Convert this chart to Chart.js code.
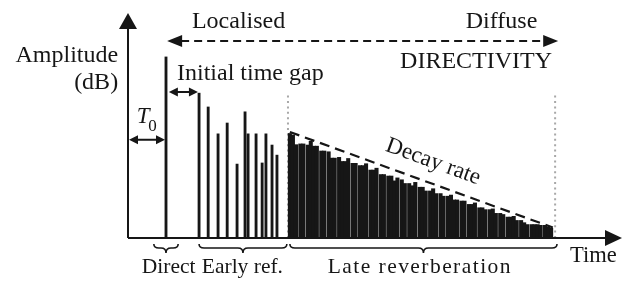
<!DOCTYPE html>
<html>
<head>
<meta charset="utf-8">
<script src="https://cdn.jsdelivr.net/npm/chart.js@4/dist/chart.umd.min.js"></script>
<style>
  body { margin: 0; background: #fff; }
  canvas { display: block; }
</style>
</head>
<body>
<canvas id="chart" width="633" height="282"></canvas>
<script>
// time in ms, amplitude in dB above the floor
const directTime = [10];
const directLevel = [48.5];

const earlyTimes = [18.7, 21.1, 23.7, 26.1, 28.7, 30.8, 31.6, 33.7, 35.3, 36.3, 37.9, 39.2];
const earlyLevels = [38.8, 35.1, 27.9, 30.8, 19.8, 33.8, 27.9, 27.9, 20.1, 27.9, 24.9, 22.2];

const lateTimes = [
  42.6, 43.4, 44.2, 45.35, 46.15, 47.3, 48.1, 48.9, 49.7, 50.85,
  51.65, 52.8, 53.6, 54.4, 55.55, 56.35, 57.15, 57.95, 59.1, 59.9,
  61.05, 61.85, 62.65, 63.8, 64.6, 65.4, 66.55, 67.35, 68.5, 69.3,
  70.1, 70.9, 72.05, 72.85, 74.0, 74.8, 75.6, 76.75, 77.55, 78.35,
  79.5, 80.3, 81.1, 82.25, 83.05, 84.2, 85.0, 85.8, 86.6, 87.75,
  88.55, 89.7, 90.5, 91.3, 92.45, 93.25, 94.05, 95.2, 96.0, 96.8,
  97.95, 98.75, 99.9, 100.7, 101.5, 102.3, 103.45, 104.25, 105.05, 106.2,
  107.0, 107.8, 108.6, 109.75, 110.55, 111.35
];
const lateLevels = [
  28.0, 27.6, 25.0, 25.2, 25.2, 24.9, 25.9, 24.6, 24.6, 23.3,
  23.3, 23.1, 21.4, 21.4, 21.6, 20.5, 20.5, 21.3, 20.0, 20.0,
  19.4, 19.4, 19.9, 18.2, 18.2, 18.7, 17.0, 17.0, 16.6, 16.6,
  15.3, 16.1, 15.6, 14.6, 14.6, 14.0, 14.9, 13.6, 13.6, 12.6,
  12.6, 13.2, 11.9, 11.9, 11.2, 11.2, 11.5, 10.2, 10.2, 9.9,
  9.9, 9.0, 9.0, 9.4, 8.1, 8.1, 7.6, 7.6, 7.8, 6.6,
  6.6, 6.3, 5.6, 5.6, 5.8, 4.7, 4.7, 4.1, 3.6, 3.6,
  3.6, 3.6, 3.4, 3.4, 2.9, 2.6
];

const decayTimes = [42.6, 111.8];
const decayLevels = [28.4, 2.8];

const boundaryTimes = [42.1, 112.4];
const boundaryTop = 38.8;

const pts = (xs, ys) => xs.map((x, i) => ({x: x, y: ys[i]}));

const serif = '"Liberation Serif", "Times New Roman", serif';
const ink = '#161616';

function head(ctx, tx, ty, dx, dy, len, half) {
    // filled triangle pointing along (dx, dy)
    const bx = tx - dx * len, by = ty - dy * len;
    ctx.beginPath();
    ctx.moveTo(tx, ty);
    ctx.lineTo(bx - dy * half, by + dx * half);
    ctx.lineTo(bx + dy * half, by - dx * half);
    ctx.closePath();
    ctx.fill();
}

function brace(ctx, x1, x2, y0) {
    const mid = (x1 + x2) / 2, r = 5, y1 = y0 + 4, y2 = y0 + 9;
    ctx.beginPath();
    ctx.moveTo(x1, y0);
    ctx.quadraticCurveTo(x1, y1, x1 + r, y1);
    ctx.lineTo(mid - r, y1);
    ctx.quadraticCurveTo(mid, y1, mid, y2);
    ctx.quadraticCurveTo(mid, y1, mid + r, y1);
    ctx.lineTo(x2 - r, y1);
    ctx.quadraticCurveTo(x2, y1, x2, y0);
    ctx.stroke();
}

const annotations = {
    id: 'annotations',
    beforeDraw(chart) {
        const ctx = chart.ctx;
        ctx.save();
        ctx.fillStyle = '#fff';
        ctx.fillRect(0, 0, chart.width, chart.height);
        ctx.restore();
    },
    afterDatasetsDraw(chart) {
        const ctx = chart.ctx;
        const X = v => chart.scales.x.getPixelForValue(v);
        const Y = v => chart.scales.y.getPixelForValue(v);
        ctx.save();
        ctx.strokeStyle = ink;
        ctx.fillStyle = ink;
        ctx.lineWidth = 2;

        // axes
        ctx.beginPath();
        ctx.moveTo(X(0), Y(0));
        ctx.lineTo(X(0), Y(57));
        ctx.moveTo(X(0), Y(0));
        ctx.lineTo(X(126), Y(0));
        ctx.stroke();
        head(ctx, X(0), Y(60.3), 0, -1, 16, 9);
        head(ctx, X(130), Y(0), 1, 0, 17, 8);

        // directivity arrow
        ctx.setLineDash([8, 5]);
        ctx.beginPath();
        ctx.moveTo(X(10.3) + 14, Y(52.8));
        ctx.lineTo(X(113.2) - 14, Y(52.8));
        ctx.stroke();
        ctx.setLineDash([]);
        head(ctx, X(10.3), Y(52.8), -1, 0, 15, 6);
        head(ctx, X(113.2), Y(52.8), 1, 0, 15, 6);

        // T0 and initial gap arrows
        ctx.beginPath();
        ctx.moveTo(X(0) + 6, Y(26.3));
        ctx.lineTo(X(10) - 6, Y(26.3));
        ctx.moveTo(X(10.5) + 6, Y(39.1));
        ctx.lineTo(X(18.4) - 6, Y(39.1));
        ctx.stroke();
        head(ctx, X(0) + 1, Y(26.3), -1, 0, 9, 4.5);
        head(ctx, X(10) - 1, Y(26.3), 1, 0, 9, 4.5);
        head(ctx, X(10.5) + 1, Y(39.1), -1, 0, 9, 4.5);
        head(ctx, X(18.4), Y(39.1), 1, 0, 9, 4.5);

        // braces
        ctx.lineWidth = 1.6;
        brace(ctx, X(6.8), X(13.2), Y(-1.6));
        brace(ctx, X(18.7), X(41.8), Y(-1.6));
        brace(ctx, X(42.6), X(112.9), Y(-1.6));

        // texts
        ctx.font = '24px ' + serif;
        ctx.textBaseline = 'alphabetic';
        ctx.textAlign = 'center';
        ctx.fillText('Localised', X(29.1), Y(56.3));
        ctx.fillText('Diffuse', X(98.3), Y(56.3));
        ctx.fillText('DIRECTIVITY', X(91.6), Y(45.5));
        ctx.textAlign = 'left';
        ctx.fillText('Initial time gap', X(12.9), Y(42.3));
        ctx.textAlign = 'right';
        ctx.fillText('Amplitude', X(-2.6), Y(47.1));
        ctx.fillText('(dB)', X(-2.6), Y(39.9));

        ctx.textAlign = 'left';
        ctx.font = '22.5px ' + serif;
        ctx.fillText('Time', X(116.3), Y(-6.4));

        ctx.font = '21.5px ' + serif;
        ctx.textAlign = 'center';
        ctx.fillText('Direct', X(10.7), Y(-9.4));
        ctx.fillText('Early ref.', X(30.1), Y(-9.4));
        ctx.letterSpacing = '1.45px';
        ctx.fillText('Late reverberation', X(76.8), Y(-9.4));
        ctx.letterSpacing = '0px';

        ctx.textAlign = 'left';
        ctx.font = 'italic 23px ' + serif;
        ctx.fillText('T', X(2.3), Y(30.8));
        ctx.font = '17px ' + serif;
        ctx.fillText('0', X(5.3), Y(28.6));

        // decay rate label, parallel to the dashed line
        const ang = Math.atan2(Y(decayLevels[1]) - Y(decayLevels[0]), X(decayTimes[1]) - X(decayTimes[0]));
        ctx.translate(X(80.3), Y(20.4));
        ctx.rotate(ang);
        ctx.font = '23px ' + serif;
        ctx.textAlign = 'center';
        ctx.textBaseline = 'middle';
        ctx.fillText('Decay rate', 0, 0);
        ctx.restore();
    }
};

const ctx = document.getElementById('chart').getContext('2d');
const myChart = new Chart(ctx, {
    type: 'bar',
    data: {
        datasets: [{
            data: pts(directTime, directLevel),
            backgroundColor: ink,
            barThickness: 2.2,
            grouped: false
        }, {
            data: pts(earlyTimes, earlyLevels),
            backgroundColor: ink,
            barThickness: 2.2,
            grouped: false
        }, {
            data: pts(lateTimes, lateLevels),
            backgroundColor: ink,
            barThickness: 3.4,
            grouped: false
        }, {
            type: 'line',
            data: pts(decayTimes, decayLevels),
            borderColor: ink,
            borderWidth: 2.2,
            borderDash: [10, 6],
            pointRadius: 0
        }, {
            type: 'line',
            data: [{x: boundaryTimes[0], y: 0}, {x: boundaryTimes[0], y: boundaryTop}],
            borderColor: '#a8a8a8',
            borderWidth: 2,
            borderDash: [2, 3.4],
            pointRadius: 0
        }, {
            type: 'line',
            data: [{x: boundaryTimes[1], y: 0}, {x: boundaryTimes[1], y: boundaryTop}],
            borderColor: '#a8a8a8',
            borderWidth: 2,
            borderDash: [2, 3.4],
            pointRadius: 0
        }]
    },
    options: {
        responsive: false,
        animation: false,
        layout: {
            padding: {left: 128, right: 11, top: 14, bottom: 44}
        },
        scales: {
            x: {type: 'linear', min: 0, max: 130, offset: false, display: false},
            y: {min: 0, max: 60, display: false}
        },
        plugins: {
            legend: {display: false},
            tooltip: {enabled: false}
        }
    },
    plugins: [annotations]
});
</script>
</body>
</html>
